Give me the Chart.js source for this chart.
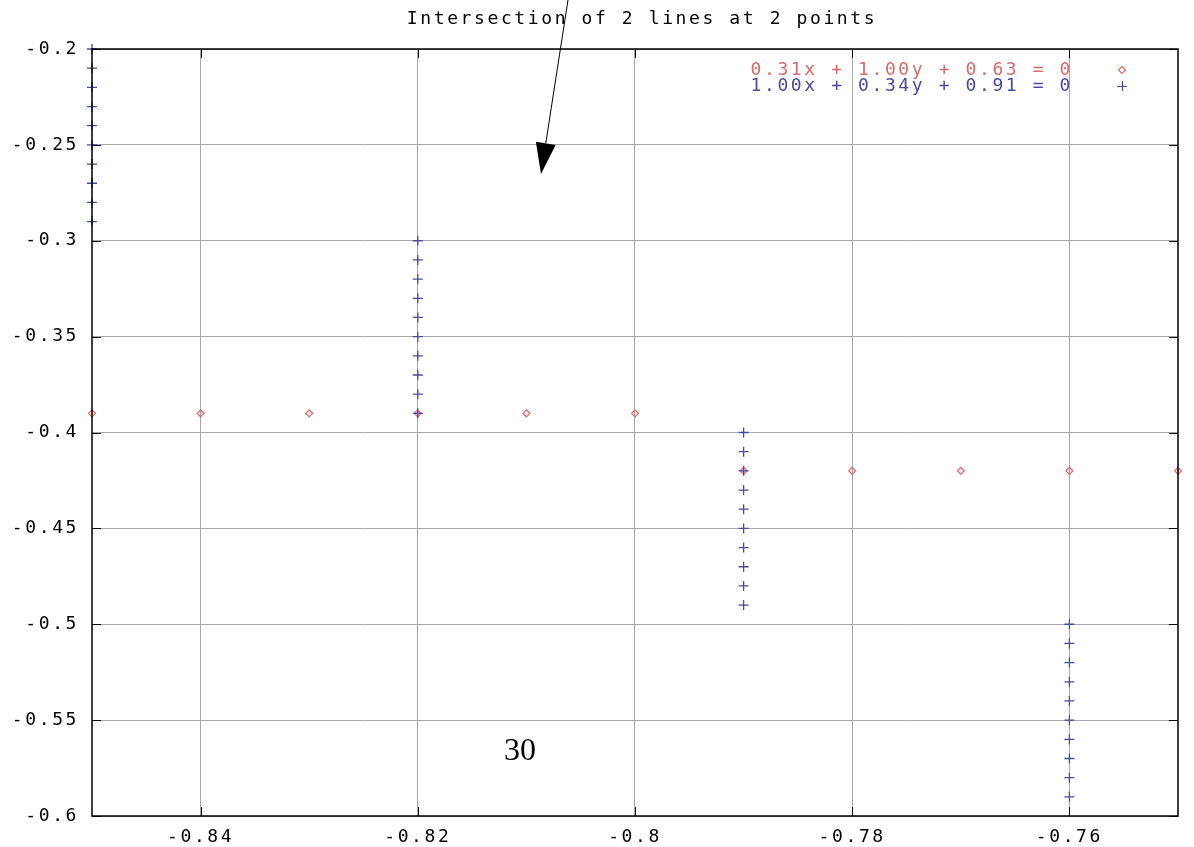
<!DOCTYPE html>
<html>
<head>
<meta charset="utf-8">
<script src="https://cdn.jsdelivr.net/npm/chart.js@4"></script>
<style>
html,body{margin:0;padding:0;background:#fff;}
#wrap{width:1194px;height:847px;position:relative;}
</style>
</head>
<body>
<div id="wrap"><canvas id="c" width="1194" height="847"></canvas></div>
<script>
// ---- data ----
const titleText = "Intersection of 2 lines at 2 points";
const series1Label = "0.31x + 1.00y + 0.63 = 0";
const series2Label = "1.00x + 0.34y + 0.91 = 0";
const series1X = [-0.85, -0.84, -0.83, -0.82, -0.81, -0.80, -0.79, -0.78, -0.77, -0.76, -0.75];
const series1Y = [-0.39, -0.39, -0.39, -0.39, -0.39, -0.39, -0.42, -0.42, -0.42, -0.42, -0.42];
const series2X = [-0.85,-0.85,-0.85,-0.85,-0.85,-0.85,-0.85,-0.85,-0.85,-0.85,
                  -0.82,-0.82,-0.82,-0.82,-0.82,-0.82,-0.82,-0.82,-0.82,-0.82,
                  -0.79,-0.79,-0.79,-0.79,-0.79,-0.79,-0.79,-0.79,-0.79,-0.79,
                  -0.76,-0.76,-0.76,-0.76,-0.76,-0.76,-0.76,-0.76,-0.76,-0.76];
const series2Y = [-0.20,-0.21,-0.22,-0.23,-0.24,-0.25,-0.26,-0.27,-0.28,-0.29,
                  -0.30,-0.31,-0.32,-0.33,-0.34,-0.35,-0.36,-0.37,-0.38,-0.39,
                  -0.40,-0.41,-0.42,-0.43,-0.44,-0.45,-0.46,-0.47,-0.48,-0.49,
                  -0.50,-0.51,-0.52,-0.53,-0.54,-0.55,-0.56,-0.57,-0.58,-0.59];
const xTicks = [-0.84, -0.82, -0.80, -0.78, -0.76];
const yTicks = [-0.60, -0.55, -0.50, -0.45, -0.40, -0.35, -0.30, -0.25, -0.20];
const xRange = [-0.85, -0.75];
const yRange = [-0.60, -0.20];
const annotationText = "30";

// ---- style ----
const RED = "#d86a6a";
const BLUE = "#4a4a9e";
const MONO = "DejaVu Sans Mono";
const FS = 18;
const LS = '2.6px';
const fmt = v => String(parseFloat(Number(v).toFixed(2)));

const pts = (xs, ys) => xs.map((x, i) => ({x: x, y: ys[i]}));

const gnuplotPlugin = {
  id: 'gnuplot',
  beforeDraw(chart) {
    chart.ctx.letterSpacing = LS;
  },
  afterDraw(chart) {
    const ctx = chart.ctx;
    const a = chart.chartArea;
    const xs = chart.scales.x, ys = chart.scales.y;
    ctx.save();
    ctx.letterSpacing = LS;
    // inward major ticks (mirrored)
    ctx.strokeStyle = '#000';
    ctx.lineWidth = 1;
    const TL = 9;
    ctx.beginPath();
    xTicks.forEach(v => {
      const px = Math.round(xs.getPixelForValue(v)) + 0.5;
      ctx.moveTo(px, a.bottom); ctx.lineTo(px, a.bottom - TL);
      ctx.moveTo(px, a.top); ctx.lineTo(px, a.top + TL);
    });
    yTicks.forEach(v => {
      const py = Math.round(ys.getPixelForValue(v)) + 0.5;
      ctx.moveTo(a.left, py); ctx.lineTo(a.left + TL, py);
      ctx.moveTo(a.right, py); ctx.lineTo(a.right - TL, py);
    });
    ctx.stroke();
    // border
    ctx.lineWidth = 1.5;
    ctx.strokeRect(a.left, a.top, a.right - a.left, a.bottom - a.top);

    // title
    ctx.font = FS + 'px "' + MONO + '"';
    ctx.fillStyle = '#000';
    ctx.textAlign = 'center';
    ctx.textBaseline = 'middle';
    ctx.fillText(titleText, 642, 19);

    // legend
    ctx.textAlign = 'right';
    ctx.fillStyle = RED;
    ctx.fillText(series1Label, 1073, 70);
    ctx.fillStyle = BLUE;
    ctx.fillText(series2Label, 1073, 86);
    // legend samples
    ctx.strokeStyle = RED;
    ctx.lineWidth = 1.2;
    ctx.beginPath();
    const dx = 1122, dy = 70, r = 3.5;
    ctx.moveTo(dx, dy - r); ctx.lineTo(dx + r, dy); ctx.lineTo(dx, dy + r); ctx.lineTo(dx - r, dy); ctx.closePath();
    ctx.stroke();
    ctx.strokeStyle = BLUE;
    ctx.beginPath();
    ctx.moveTo(1117, 86.5); ctx.lineTo(1127, 86.5);
    ctx.moveTo(1122.5, 81); ctx.lineTo(1122.5, 91);
    ctx.stroke();

    // arrow
    ctx.strokeStyle = '#000';
    ctx.fillStyle = '#000';
    ctx.lineWidth = 1;
    const x0 = 568, y0 = 0, x1 = 541, y1 = 174;
    const ang = Math.atan2(y1 - y0, x1 - x0);
    const hl = 31, hw = 10;
    const bx = x1 - hl * Math.cos(ang), by = y1 - hl * Math.sin(ang);
    ctx.beginPath();
    ctx.moveTo(x0, y0); ctx.lineTo(bx, by);
    ctx.stroke();
    ctx.beginPath();
    ctx.moveTo(x1, y1);
    ctx.lineTo(bx + hw * Math.sin(ang), by - hw * Math.cos(ang));
    ctx.lineTo(bx - hw * Math.sin(ang), by + hw * Math.cos(ang));
    ctx.closePath();
    ctx.fill();

    // annotation
    ctx.letterSpacing = '0px';
    ctx.font = '32px "Liberation Serif"';
    ctx.fillStyle = '#000';
    ctx.textAlign = 'center';
    ctx.textBaseline = 'alphabetic';
    ctx.fillText(annotationText, 520, 760);
    ctx.restore();
  }
};

new Chart(document.getElementById('c'), {
  type: 'scatter',
  data: {
    datasets: [
      {
        label: series1Label,
        data: pts(series1X, series1Y),
        pointStyle: 'rectRot',
        radius: 3.5,
        borderWidth: 1.2,
        borderColor: RED,
        backgroundColor: 'rgba(216,106,106,0.18)',
        clip: false,
        order: 2
      },
      {
        label: series2Label,
        data: pts(series2X, series2Y),
        pointStyle: 'cross',
        radius: 5,
        borderWidth: 1.3,
        borderColor: BLUE,
        backgroundColor: BLUE,
        clip: false,
        order: 1
      }
    ]
  },
  options: {
    responsive: false,
    animation: false,
    events: [],
    layout: { padding: { top: 49, right: 16, left: 0, bottom: 0 } },
    plugins: { legend: { display: false }, title: { display: false }, tooltip: { enabled: false } },
    scales: {
      x: {
        type: 'linear',
        min: xRange[0], max: xRange[1],
        afterBuildTicks: s => { s.ticks = xTicks.map(v => ({value: v})); },
        afterFit: s => { s.height = 31; },
        grid: { color: '#a8a8a8', lineWidth: 1, drawTicks: false },
        border: { display: false },
        ticks: {
          padding: 11,
          color: '#000',
          maxRotation: 0,
          font: { family: MONO, size: FS },
          callback: v => fmt(v)
        }
      },
      y: {
        type: 'linear',
        min: yRange[0], max: yRange[1],
        afterBuildTicks: s => { s.ticks = yTicks.map(v => ({value: v})); },
        afterFit: s => { s.width = 92; },
        grid: { color: '#a8a8a8', lineWidth: 1, drawTicks: false },
        border: { display: false },
        ticks: {
          padding: 13,
          color: '#000',
          font: { family: MONO, size: FS },
          callback: v => fmt(v)
        }
      }
    }
  },
  plugins: [gnuplotPlugin]
});
</script>
</body>
</html>
